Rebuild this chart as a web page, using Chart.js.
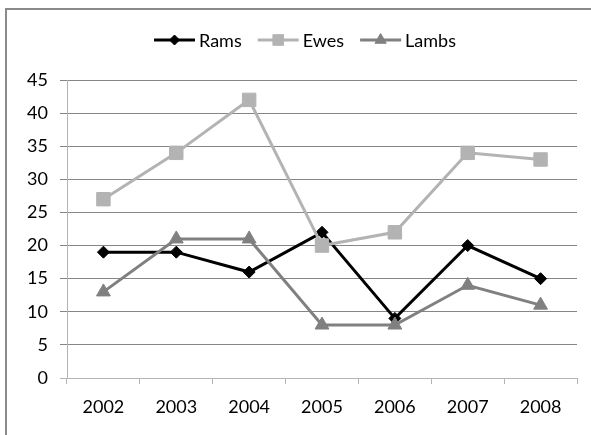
<!DOCTYPE html>
<html>
<head>
<meta charset="utf-8">
<script src="https://cdn.jsdelivr.net/npm/chart.js@4/dist/chart.umd.min.js"></script>
<style>
  html, body { margin: 0; padding: 0; background: #fff; overflow: hidden; }
  #wrap { position: relative; width: 591px; height: 435px; overflow: hidden; }
  #frame { position: absolute; left: 5px; top: 8px; width: 700px; height: 600px;
           border-top: 2px solid #8a8a8a; border-left: 2px solid #8a8a8a; }
  #c { position: absolute; left: 0; top: 0; }
</style>
</head>
<body>
<div id="wrap">
  <div id="frame"></div>
  <canvas id="c" width="591" height="435"></canvas>
</div>
<script>
// Flock counts per year
const years = ['2002', '2003', '2004', '2005', '2006', '2007', '2008'];
const rams  = [19, 19, 16, 22, 9, 20, 15];
const ewes  = [27, 34, 42, 20, 22, 34, 33];
const lambs = [13, 21, 21, 8, 8, 14, 11];

const yMin = 0, yMax = 45, yStep = 5;

const FONT = 'Lato, "Open Sans", sans-serif';
const GRID = '#868686';
const AXIS = '#b4b4b4';

// Legend drawn as a short line with the series marker in the middle
const lineLegend = {
  id: 'lineLegend',
  afterDraw(chart) {
    const ctx = chart.ctx;
    const sample = 41, gap = 4, between = 16;
    ctx.save();
    ctx.font = '18px ' + FONT;
    const items = chart.data.datasets.map(ds => ({ ds, w: ctx.measureText(ds.label).width }));
    const total = items.reduce((s, it) => s + sample + gap + it.w, 0) + between * (items.length - 1);
    let x = 305 - total / 2;
    const y = 40;
    items.forEach(it => {
      const ds = it.ds;
      ctx.strokeStyle = ds.borderColor;
      ctx.lineWidth = 3;
      ctx.beginPath();
      ctx.moveTo(x, y);
      ctx.lineTo(x + sample, y);
      ctx.stroke();
      ctx.fillStyle = ds.pointBackgroundColor;
      ctx.strokeStyle = ds.pointBorderColor;
      ctx.lineWidth = 1;
      Chart.helpers.drawPoint(ctx, { pointStyle: ds.pointStyle, radius: ds.legendRadius, borderWidth: 1, rotation: 0 }, x + sample / 2, y);
      ctx.fillStyle = '#000';
      ctx.textAlign = 'left';
      ctx.textBaseline = 'middle';
      ctx.fillText(ds.label, x + sample + gap, y + 1);
      x += sample + gap + it.w + between;
    });
    ctx.restore();
  }
};

function series(label, data, color, style, radius, legendRadius, order) {
  return {
    label, data, order,
    borderColor: color,
    backgroundColor: color,
    pointBackgroundColor: color,
    pointBorderColor: color,
    borderWidth: 3,
    pointStyle: style,
    pointRadius: radius,
    pointBorderWidth: 1,
    legendRadius,
    tension: 0,
    fill: false
  };
}

new Chart(document.getElementById('c'), {
  type: 'line',
  data: {
    labels: years,
    datasets: [
      series('Rams', rams, '#000000', 'rectRot', 6, 5, 2),
      series('Ewes', ewes, '#b3b3b3', 'rect', 9.5, 7.5, 1),
      series('Lambs', lambs, '#808080', 'triangle', 8, 6.5, 0)
    ]
  },
  options: {
    responsive: false,
    animation: false,
    layout: { padding: { top: 80, right: 14, bottom: 0, left: 0 } },
    plugins: { legend: { display: false }, tooltip: { enabled: false } },
    scales: {
      x: {
        offset: true,
        grid: { offset: true, drawOnChartArea: false, color: AXIS, tickLength: 6, lineWidth: 1 },
        border: { color: AXIS, width: 1 },
        ticks: { color: '#000', font: { family: FONT, size: 18 }, padding: 12, maxRotation: 0 },
        afterFit(scale) { scale.height = 57; }
      },
      y: {
        min: yMin, max: yMax,
        grid: {
          color: ctx => (ctx.tick && ctx.tick.value === 0 ? AXIS : GRID),
          tickLength: 7, lineWidth: 1
        },
        border: { color: AXIS, width: 1 },
        ticks: { stepSize: yStep, color: '#000', font: { family: FONT, size: 18 }, padding: 12 },
        afterFit(scale) { scale.width = 67; }
      }
    }
  },
  plugins: [lineLegend]
});
</script>
</body>
</html>
